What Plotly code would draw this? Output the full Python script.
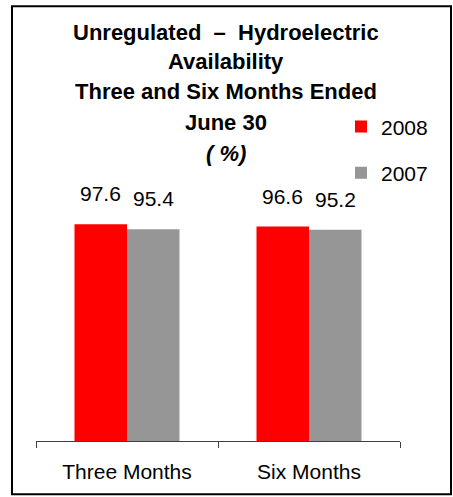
import plotly.graph_objects as go

categories = ["Three Months", "Six Months"]
series_names = ["2008", "2007"]
values_2008 = [97.6, 96.6]
values_2007 = [95.4, 95.2]
colors = ["#FF0000", "#969696"]
title_lines = [
    ("<b>Unregulated  –  Hydroelectric</b>", 32),
    ("<b>Availability</b>", 61),
    ("<b>Three and Six Months Ended</b>", 91),
    ("<b>June 30</b>", 122),
    ("<b><i>( %)</i></b>", 153),
]

W, H = 453, 497
PL, PR = 36, 400          # plot area x pixels
PT, PB = 218.7, 440.7     # plot area y pixels
FONT = "Liberation Sans, Arial, sans-serif"


def px_x(x):
    return (x - PL) / (PR - PL)


def px_y(y):
    return (PB - y) / (PB - PT)


fig = go.Figure()
for name, vals, col in zip(series_names, [values_2008, values_2007], colors):
    fig.add_trace(go.Bar(
        x=categories, y=vals, name=name, legendgroup=name,
        marker=dict(color=col, line=dict(width=0)),
    ))

annotations = []
offsets = [-26.5, 26.5]
for vals, dx in zip([values_2008, values_2007], offsets):
    for c, v in zip(categories, vals):
        annotations.append(dict(
            x=c, y=v, xref="x", yref="y", text=f"{v:.1f}", showarrow=False,
            xshift=dx, yshift=17, yanchor="bottom",
            font=dict(family=FONT, size=21, color="black"),
        ))
for txt, yc in title_lines:
    annotations.append(dict(
        x=px_x(226), y=px_y(yc), xref="paper", yref="paper", text=txt,
        showarrow=False, xanchor="center", yanchor="middle",
        font=dict(family=FONT, size=22, color="black"),
    ))

fig.update_layout(
    width=W, height=H,
    margin=dict(l=PL, r=W - PR, t=PT, b=H - PB, pad=0),
    paper_bgcolor="white", plot_bgcolor="white",
    barmode="group", bargap=0.423, bargroupgap=0,
    showlegend=True,
    legend=dict(
        x=px_x(341), y=px_y(106), xanchor="left", yanchor="top",
        traceorder="grouped", tracegroupgap=16,
        font=dict(family=FONT, size=21, color="black"),
        bgcolor="rgba(0,0,0,0)",
    ),
    annotations=annotations,
    shapes=[dict(
        type="rect", xref="paper", yref="paper",
        x0=px_x(12), x1=px_x(451), y0=px_y(494), y1=px_y(6),
        line=dict(color="black", width=2), fillcolor="rgba(0,0,0,0)",
        layer="above",
    )],
    font=dict(family=FONT, size=21, color="black"),
)
fig.update_xaxes(
    showline=True, linecolor="#404040", linewidth=1,
    ticks="outside", ticklen=6, tickcolor="#404040", tickson="boundaries",
    ticklabelstandoff=12,
    tickfont=dict(family=FONT, size=21, color="black"),
    showgrid=False, zeroline=False,
)
fig.update_yaxes(range=[0, 100], visible=False, showgrid=False)

fig.write_html(
    "out.html",
    config={"displayModeBar": False},
    post_script="document.body.style.margin='0';document.body.style.overflow='hidden';",
)
